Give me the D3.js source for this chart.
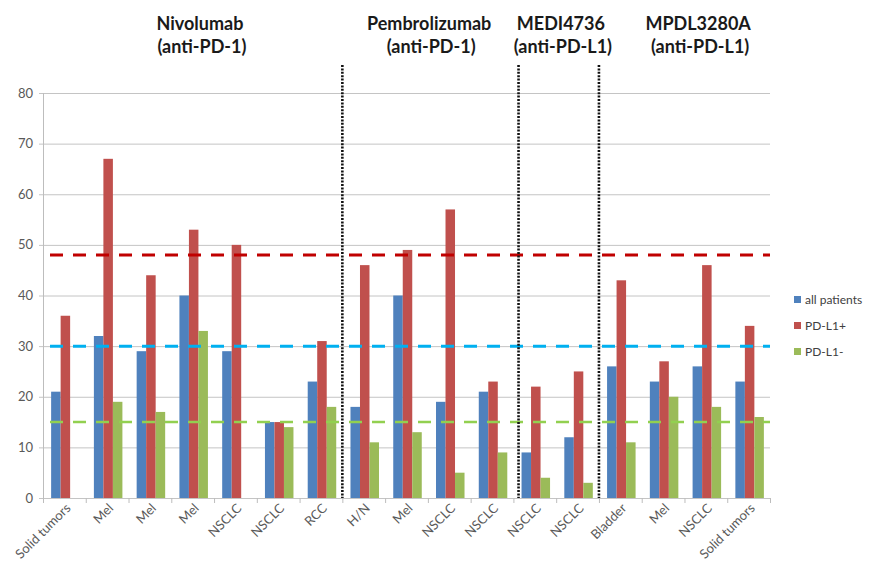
<!DOCTYPE html>
<html>
<head>
<meta charset="utf-8">
<script src="https://cdn.jsdelivr.net/npm/d3@7"></script>
<style>
  html, body { margin: 0; padding: 0; background: #ffffff; }
  svg { display: block; }
</style>
</head>
<body>
<svg id="chart" width="872" height="564"></svg>
<script>
// ---------- data ----------
const categories = ["Solid tumors","Mel","Mel","Mel","NSCLC","NSCLC","RCC","H/N","Mel","NSCLC","NSCLC","NSCLC","NSCLC","Bladder","Mel","NSCLC","Solid tumors"];
const seriesNames = ["all patients","PD-L1+","PD-L1-"];
const allPatients = [21,32,29,40,29,15,23,18,40,19,21,9,12,26,23,26,23];
const pdl1Pos     = [36,67,44,53,50,15,31,46,49,57,23,22,25,43,27,46,34];
const pdl1Neg     = [null,19,17,33,null,14,18,11,13,5,9,4,3,11,20,18,16];
const referenceValues = [48,30,15];          // PD-L1+ avg, all avg, PD-L1- avg
const yTicks = [0,10,20,30,40,50,60,70,80];
const drugNames   = ["Nivolumab","Pembrolizumab","MEDI4736","MPDL3280A"];
const drugTargets = ["(anti-PD-1)","(anti-PD-1)","(anti-PD-L1)","(anti-PD-L1)"];
const drugLabelAt = [3.67, 9.03, 12.11, 15.32];   // in category units
const dividersAt  = [7, 11.12, 13];               // in category units

// ---------- styles ----------
const barColors = ["#4F81BD","#C0504D","#9BBB59"];
const refColors = ["#C00000","#00B0F0","#92D050"];
const refWidths = [3, 3, 2.6];

const svg = d3.select("#chart");
const W = 872, H = 564;
const m = { left: 43, right: 102, top: 93, bottom: 66 };
const plotL = m.left, plotR = W - m.right, plotT = m.top, plotB = H - m.bottom;

const idx = d3.range(categories.length);
const x = d3.scaleBand().domain(idx).range([plotL, plotR]).paddingInner(1/3).paddingOuter(1/6);
const xs = d3.scaleBand().domain(seriesNames).range([0, x.bandwidth()]);
const y = d3.scaleLinear().domain([0, 80]).range([plotB, plotT]);
const step = x.step();
const catPos = v => plotL + v * step;   // category units -> px

const seriesData = [allPatients, pdl1Pos, pdl1Neg];

// gridlines
svg.append("g").selectAll("line").data(yTicks).join("line")
  .attr("x1", plotL - 4).attr("x2", plotR)
  .attr("y1", d => y(d) + 0.5).attr("y2", d => y(d) + 0.5)
  .attr("stroke", "#C4C4C4").attr("stroke-width", 1);

// y labels
svg.append("g").selectAll("text").data(yTicks).join("text")
  .attr("x", plotL - 10).attr("y", d => y(d)).attr("dy", "0.35em")
  .attr("text-anchor", "end")
  .attr("font-family", "Lato, 'Open Sans', sans-serif").attr("font-size", 13)
  .attr("fill", "#595959").text(d => d);

// y axis line
svg.append("line").attr("x1", plotL + 0.5).attr("x2", plotL + 0.5)
  .attr("y1", plotT).attr("y2", plotB).attr("stroke", "#BDBDBD");

// x ticks at category boundaries
svg.append("g").selectAll("line").data(d3.range(categories.length + 1)).join("line")
  .attr("x1", d => catPos(d) + 0.5).attr("x2", d => catPos(d) + 0.5)
  .attr("y1", plotB).attr("y2", plotB + 5)
  .attr("stroke", "#BDBDBD");

// bars
seriesData.forEach((vals, si) => {
  svg.append("g").selectAll("rect")
    .data(vals.map((v, i) => ({ v, i })).filter(d => d.v != null))
    .join("rect")
    .attr("x", d => x(d.i) + xs(seriesNames[si]) + 1)
    .attr("width", xs.bandwidth())
    .attr("y", d => y(d.v))
    .attr("height", d => y(0) - y(d.v))
    .attr("fill", barColors[si]);
});

// reference dashed lines
referenceValues.forEach((v, i) => {
  svg.append("line")
    .attr("x1", plotL + 7).attr("x2", plotR)
    .attr("y1", y(v)).attr("y2", y(v))
    .attr("stroke", refColors[i]).attr("stroke-width", refWidths[i])
    .attr("stroke-dasharray", "13,10");
});

// dotted dividers
svg.append("g").selectAll("line").data(dividersAt).join("line")
  .attr("x1", d => catPos(d)).attr("x2", d => catPos(d))
  .attr("y1", plotT - 28).attr("y2", plotB)
  .attr("stroke", "#111").attr("stroke-width", 2.6)
  .attr("stroke-dasharray", "2,1.4");

// x labels rotated
svg.append("g").selectAll("text").data(idx).join("text")
  .attr("transform", d => `translate(${x(d) + x.bandwidth()/2 + 7},${plotB + 11}) rotate(-45)`)
  .attr("text-anchor", "end")
  .attr("font-family", "Lato, 'Open Sans', sans-serif").attr("font-size", 13)
  .attr("fill", "#595959").text(d => categories[d]);

// drug titles
const tg = svg.append("g").attr("font-family", "Lato, 'Open Sans', sans-serif")
  .attr("font-weight", 700).attr("font-size", 18).attr("fill", "#1a1a1a").attr("text-anchor", "middle");
tg.selectAll("text.n").data(drugNames).join("text").attr("class","n")
  .attr("x", (d, i) => catPos(drugLabelAt[i])).attr("y", 30).text(d => d);
tg.selectAll("text.t").data(drugTargets).join("text").attr("class","t")
  .attr("x", (d, i) => catPos(drugLabelAt[i]) + 2).attr("y", 53).text(d => d);

// legend
const lg = svg.append("g").attr("transform", `translate(${plotR + 24},300)`);
seriesNames.forEach((s, i) => {
  const g = lg.append("g").attr("transform", `translate(0,${i * 26})`);
  g.append("rect").attr("x", 0).attr("y", -4).attr("width", 7).attr("height", 7).attr("fill", barColors[i]);
  g.append("text").attr("x", 11).attr("y", 0).attr("dy", "0.35em")
    .attr("font-family", "Lato, 'Open Sans', sans-serif").attr("font-size", 12)
    .attr("fill", "#404040").text(s);
});
</script>
</body>
</html>
